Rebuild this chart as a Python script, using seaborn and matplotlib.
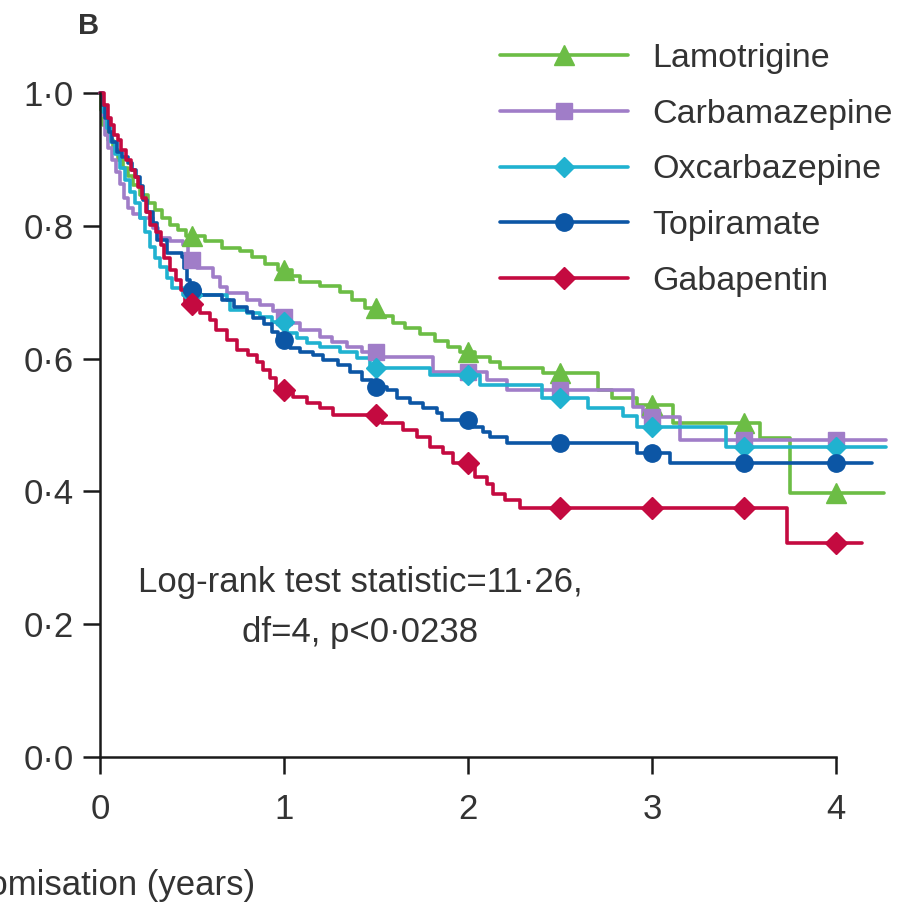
import numpy as np
import pandas as pd
import matplotlib
matplotlib.use("Agg")
import matplotlib.pyplot as plt
from matplotlib.lines import Line2D
import seaborn as sns

# Kaplan-Meier step curves (time in years, proportion still on treatment)
lam_t = [0, 0.005, 0.016, 0.043, 0.071, 0.098, 0.125, 0.152, 0.179, 0.217, 0.261, 0.299, 0.337,
         0.380, 0.424, 0.467, 0.571, 0.663, 0.761, 0.826, 0.897, 0.967, 1.043, 1.087, 1.196, 1.304,
         1.370, 1.440, 1.511, 1.592, 1.658, 1.739, 1.821, 1.891, 1.957, 2.038, 2.120, 2.174, 2.408,
         2.707, 2.783, 2.918, 3.114, 3.587, 3.750, 4.26]
lam_s = [1.0, 0.974, 0.952, 0.929, 0.914, 0.899, 0.887, 0.875, 0.861, 0.846, 0.834, 0.824, 0.812,
         0.801, 0.794, 0.785, 0.777, 0.767, 0.762, 0.753, 0.742, 0.733, 0.724, 0.715, 0.709, 0.700,
         0.688, 0.676, 0.664, 0.654, 0.646, 0.637, 0.627, 0.617, 0.610, 0.602, 0.595, 0.586, 0.578,
         0.553, 0.541, 0.530, 0.503, 0.480, 0.398, 0.398]

carb_t = [0, 0.011, 0.027, 0.043, 0.065, 0.087, 0.109, 0.130, 0.152, 0.179, 0.217, 0.288, 0.315,
          0.380, 0.451, 0.478, 0.527, 0.614, 0.652, 0.690, 0.799, 0.870, 0.940, 0.978, 1.033, 1.087,
          1.196, 1.261, 1.342, 1.424, 1.522, 1.810, 2.103, 2.212, 2.897, 2.951, 3.152, 4.27]
carb_s = [1.0, 0.967, 0.937, 0.917, 0.899, 0.881, 0.863, 0.842, 0.827, 0.818, 0.812, 0.797, 0.782,
          0.777, 0.771, 0.748, 0.736, 0.723, 0.708, 0.699, 0.688, 0.681, 0.672, 0.663, 0.654, 0.643,
          0.633, 0.625, 0.617, 0.610, 0.602, 0.580, 0.568, 0.553, 0.527, 0.512, 0.477, 0.477]

oxc_t = [0, 0.016, 0.038, 0.060, 0.082, 0.109, 0.136, 0.163, 0.190, 0.217, 0.245, 0.272, 0.299,
         0.326, 0.364, 0.391, 0.451, 0.690, 0.707, 0.799, 0.870, 0.935, 1.016, 1.071, 1.125, 1.196,
         1.304, 1.397, 1.467, 1.793, 2.065, 2.402, 2.652, 2.842, 2.918, 3.402, 4.27]
oxc_s = [1.0, 0.971, 0.947, 0.926, 0.908, 0.887, 0.869, 0.851, 0.834, 0.812, 0.791, 0.768, 0.752,
         0.738, 0.721, 0.706, 0.696, 0.688, 0.673, 0.669, 0.663, 0.655, 0.638, 0.631, 0.623, 0.617,
         0.610, 0.601, 0.586, 0.575, 0.560, 0.541, 0.526, 0.514, 0.497, 0.467, 0.467]

top_t = [0, 0.011, 0.027, 0.049, 0.065, 0.092, 0.120, 0.152, 0.174, 0.196, 0.217, 0.234, 0.255,
         0.288, 0.310, 0.364, 0.446, 0.457, 0.473, 0.489, 0.543, 0.663, 0.728, 0.799, 0.832, 0.891,
         0.935, 0.967, 1.033, 1.087, 1.158, 1.212, 1.293, 1.359, 1.424, 1.478, 1.560, 1.614, 1.685,
         1.755, 1.832, 1.859, 2.027, 2.082, 2.120, 2.212, 2.918, 3.098, 4.196]
top_s = [1.0, 0.982, 0.962, 0.941, 0.926, 0.911, 0.904, 0.895, 0.884, 0.873, 0.860, 0.839, 0.821,
         0.804, 0.779, 0.759, 0.753, 0.736, 0.718, 0.703, 0.696, 0.688, 0.678, 0.670, 0.661, 0.652,
         0.640, 0.628, 0.616, 0.610, 0.605, 0.598, 0.590, 0.580, 0.568, 0.557, 0.553, 0.541, 0.533,
         0.526, 0.518, 0.508, 0.497, 0.489, 0.482, 0.473, 0.458, 0.443, 0.443]

gab_t = [0, 0.022, 0.043, 0.060, 0.076, 0.098, 0.114, 0.141, 0.168, 0.190, 0.207, 0.228, 0.250,
         0.272, 0.304, 0.332, 0.348, 0.380, 0.413, 0.440, 0.462, 0.543, 0.598, 0.630, 0.690, 0.745,
         0.804, 0.853, 0.886, 0.924, 0.957, 1.049, 1.125, 1.196, 1.266, 1.533, 1.647, 1.723, 1.793,
         1.864, 1.918, 2.038, 2.103, 2.136, 2.201, 2.283, 3.734, 4.141]
gab_s = [1.0, 0.982, 0.962, 0.952, 0.937, 0.929, 0.914, 0.899, 0.884, 0.873, 0.858, 0.842, 0.821,
         0.801, 0.791, 0.771, 0.752, 0.733, 0.718, 0.703, 0.682, 0.669, 0.658, 0.643, 0.628, 0.613,
         0.605, 0.595, 0.583, 0.571, 0.553, 0.542, 0.533, 0.526, 0.515, 0.503, 0.492, 0.482, 0.467,
         0.458, 0.443, 0.422, 0.411, 0.396, 0.387, 0.375, 0.322, 0.322]

drugs = ["Lamotrigine", "Carbamazepine", "Oxcarbazepine", "Topiramate", "Gabapentin"]
times = [lam_t, carb_t, oxc_t, top_t, gab_t]
survs = [lam_s, carb_s, oxc_s, top_s, gab_s]

mark_times = [0.5, 1.0, 1.5, 2.0, 2.5, 3.0, 3.5, 4.0]
x_ticks = [0, 1, 2, 3, 4]
x_labels = ["0", "1", "2", "3", "4"]
y_ticks = [0.0, 0.2, 0.4, 0.6, 0.8, 1.0]
y_labels = ["0·0", "0·2", "0·4", "0·6", "0·8", "1·0"]

colors = ["#6cbd45", "#a07dc8", "#20b2d0", "#0c56a5", "#c40a40"]
markers = ["^", "s", "D", "o", "D"]
msizes = [14, 12, 10, 12.5, 11]
ink = "#333333"
axis_ink = "#1a1a1a"
fs = 25

sns.set_theme(style="ticks")
plt.rcParams["font.family"] = ["Liberation Sans", "DejaVu Sans"]

df = pd.concat(
    [pd.DataFrame({"time": t, "surv": s, "drug": d}) for t, s, d in zip(times, survs, drugs)],
    ignore_index=True,
)

fig = plt.figure(figsize=(9.04, 9.10), dpi=100)
ax = fig.add_axes([0.1106, 0.1681, 0.8142, 0.7297])

sns.lineplot(data=df, x="time", y="surv", hue="drug", hue_order=drugs, palette=colors,
             estimator=None, drawstyle="steps-post", lw=2.6, legend=False,
             clip_on=False, ax=ax)

# Symbols at half-year intervals, placed on each step curve
for t, s, c, m, ms in zip(times, survs, colors, markers, msizes):
    t = np.asarray(t)
    s = np.asarray(s)
    idx = np.searchsorted(t, mark_times, side="right") - 1
    ax.plot(mark_times, s[idx], ls="none", marker=m, ms=ms, color=c,
            mec=c, clip_on=False, zorder=4)

ax.set_xlim(0, 4)
ax.set_ylim(0, 1)
ax.set_xticks(x_ticks)
ax.set_xticklabels(x_labels)
ax.set_yticks(y_ticks)
ax.set_yticklabels(y_labels)
ax.set_xlabel("")
ax.set_ylabel("")

ax.tick_params(axis="both", direction="out", length=12, width=1.8, color=axis_ink,
               labelsize=fs, labelcolor=ink)
ax.tick_params(axis="x", pad=14)
ax.tick_params(axis="y", pad=7)
for side in ["top", "right"]:
    ax.spines[side].set_visible(False)
for side in ["left", "bottom"]:
    ax.spines[side].set_linewidth(1.8)
    ax.spines[side].set_color(axis_ink)

# Two-line test summary
ax.text(1.413, 0.2625, "Log-rank test statistic=11·26,", ha="center", va="center",
        fontsize=fs, color=ink)
ax.text(1.413, 0.187, "df=4, p<0·0238", ha="center", va="center",
        fontsize=fs, color=ink)

handles = [Line2D([], [], color=c, lw=2.6, marker=m, ms=ms, mec=c)
           for c, m, ms in zip(colors, markers, msizes)]
fig.legend(handles, drugs, loc="upper left", bbox_to_anchor=(0.553, 0.953),
           frameon=False, fontsize=24.5, handlelength=3.75, handletextpad=0.73,
           labelspacing=0.73, borderpad=0, borderaxespad=0, labelcolor=ink)

fig.text(78 / 904, 1 - 26 / 910, "B", fontsize=21, fontweight="bold", color=ink,
         ha="left", va="center")
fig.text(255 / 904, 1 - 885 / 910, "Time from randomisation (years)", fontsize=fs,
         color=ink, ha="right", va="center")

fig.savefig("out.png", dpi=100)
